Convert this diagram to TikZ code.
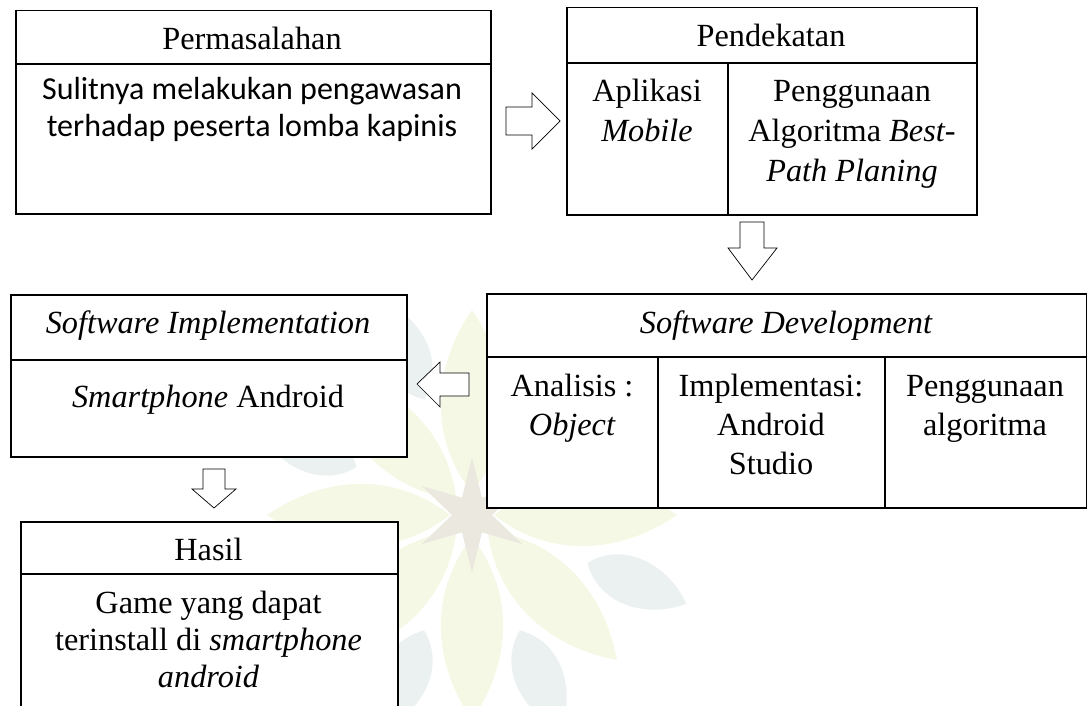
\documentclass[tikz,border=0pt]{standalone}
\usepackage{fontspec}
\setmainfont{Liberation Serif}
\newfontfamily\calibrifont{Carlito}
\definecolor{wmgreen}{HTML}{F5F8E5}
\definecolor{wmblue}{HTML}{EBF1F1}
\definecolor{wmstar}{HTML}{EBE8DF}
\begin{document}
\begin{tikzpicture}[x=1pt,y=-1pt,
  box/.style={draw, line width=1.5pt, fill=white, inner sep=0pt, anchor=north west},
  divline/.style={line width=1.5pt},
  blockarrow/.style={draw, line width=0.7pt, fill=white, line join=miter},
  txt/.style={anchor=base, inner sep=0pt, font=\fontsize{32.3}{39}\selectfont},
  ctxt/.style={anchor=base, inner sep=0pt, font=\calibrifont\fontsize{32}{38}\selectfont}]
\useasboundingbox (0,0) rectangle (1087,706);
\clip (0,0) rectangle (1087,706);

% ---- faint watermark ----
\coordinate (wm) at (472,515);
\foreach \a in {0,45,...,315}{
  \fill[wmgreen, shift={(wm)}, rotate=\a] (22,0) .. controls (80,45) and (150,38) .. (205,0) .. controls (150,-38) and (80,-45) .. (22,0);
  \fill[wmblue, shift={(wm)}, rotate=\a+22.5] (125,0) .. controls (150,34) and (200,30) .. (232,0) .. controls (200,-30) and (150,-34) .. (125,0);
}
\fill[wmstar, shift={(wm)}] (90:58)
  \foreach \k in {1,...,11}{ -- ({90+\k*30}:{mod(\k,2)==1 ? 20 : 58}) } -- cycle;

% ---- boxes ----
\node[box, minimum width=475pt, minimum height=203pt] (perm) at (15,10) {};
\draw[divline] (15,64) -- (490,64);
\node[box, minimum width=410pt, minimum height=207pt] (pend) at (566,7) {};
\draw[divline] (566,63) -- (976,63);
\draw[divline] (728,63) -- (728,214);
\node[box, minimum width=600pt, minimum height=214pt] (dev) at (486,293) {};
\draw[divline] (486,357) -- (1086,357);
\draw[divline] (658,357) -- (658,507);
\draw[divline] (885,357) -- (885,507);
\node[box, minimum width=396pt, minimum height=162pt] (impl) at (10,294) {};
\draw[divline] (10,360) -- (406,360);
\node[box, minimum width=377pt, minimum height=200pt] (hasil) at (20,521) {};
\draw[divline] (20,574) -- (397,574);

% ---- block arrows ----
\draw[blockarrow] (506,107) -- (532,107) -- (532,93) -- (560,121) -- (532,149) -- (532,135) -- (506,135) -- cycle;
\draw[blockarrow] (740,222) -- (764,222) -- (764,248) -- (777,248) -- (752,280) -- (728,248) -- (740,248) -- cycle;
\draw[blockarrow] (469,373) -- (469,396) -- (440,396) -- (440,407) -- (417,384) -- (440,362) -- (440,373) -- cycle;
\draw[blockarrow] (203,469) -- (225,469) -- (225,489) -- (236,489) -- (214,508) -- (192,489) -- (203,489) -- cycle;

% ---- texts ----
\node[txt] (permT) at (252,50) {Permasalahan};
\node[ctxt] (permA) at (252,100) {Sulitnya melakukan pengawasan};
\node[ctxt] (permB) at (252,137) {terhadap peserta lomba kapinis};

\node[txt] (pendT) at (771,47) {Pendekatan};
\node[txt] (pendA1) at (647,102) {Aplikasi};
\node[txt] (pendA2) at (647,142) {\itshape Mobile};
\node[txt] (pendB1) at (852,102) {Penggunaan};
\node[txt] (pendB2) at (852,142) {Algoritma \itshape Best-};
\node[txt] (pendB3) at (852,182) {\itshape Path Planing};

\node[txt] (devT) at (786,333) {\itshape Software Development};
\node[txt] (devA1) at (572,396) {Analisis :};
\node[txt] (devA2) at (572,435) {\itshape Object};
\node[txt] (devB1) at (771,396) {Implementasi:};
\node[txt] (devB2) at (771,435) {Android};
\node[txt] (devB3) at (771,474) {Studio};
\node[txt] (devC1) at (985,396) {Penggunaan};
\node[txt] (devC2) at (985,435) {algoritma};

\node[txt] (implT) at (208,333) {\itshape Software Implementation};
\node[txt] (implA) at (208,407) {\itshape Smartphone \upshape Android};

\node[txt] (hasT) at (208.5,560) {Hasil};
\node[txt] (hasA) at (208.5,613) {Game yang dapat};
\node[txt] (hasB) at (208.5,650) {terinstall di \itshape smartphone};
\node[txt] (hasC) at (208.5,687) {\itshape android};
\end{tikzpicture}
\end{document}
